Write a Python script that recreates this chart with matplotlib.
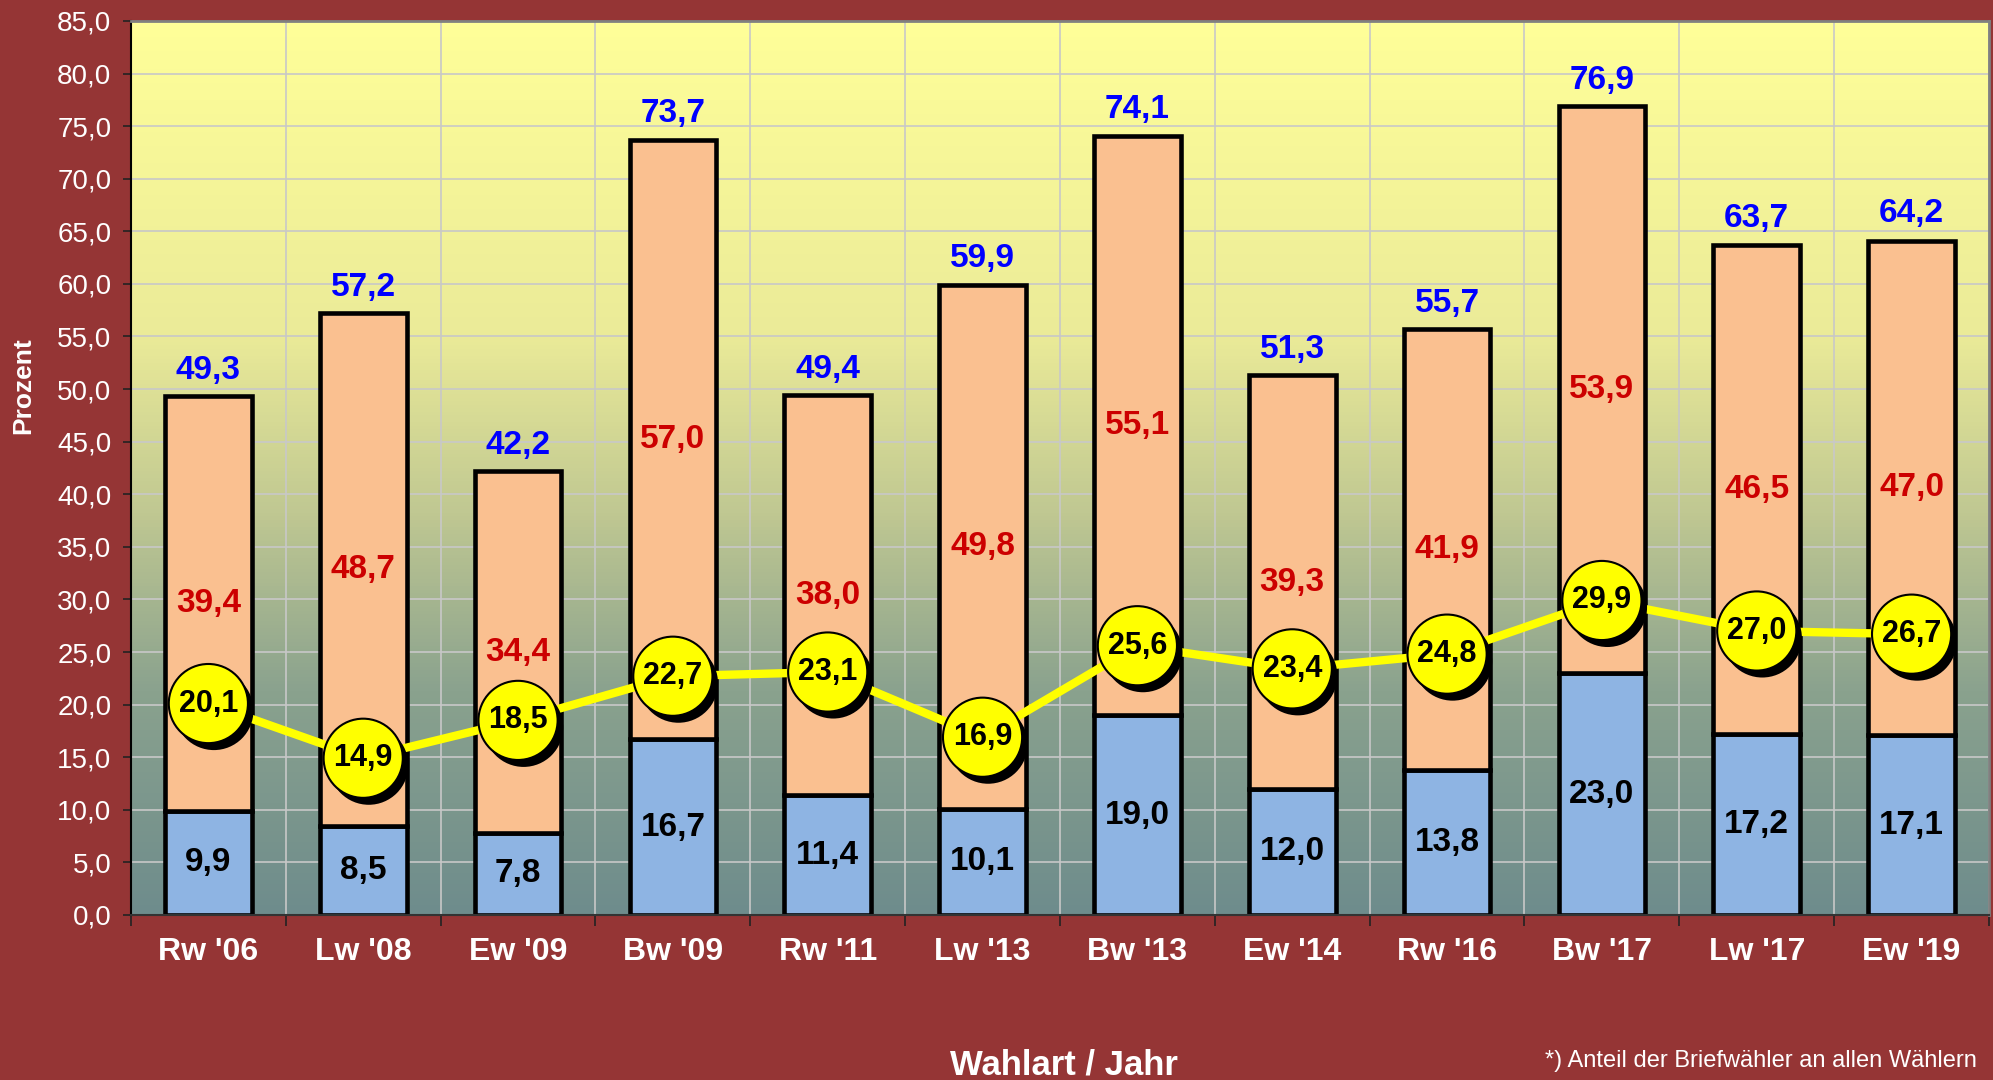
import numpy as np
import matplotlib.pyplot as plt
import matplotlib.patheffects as pe
from matplotlib.colors import LinearSegmentedColormap

plt.rcParams['font.family'] = ['Liberation Sans', 'DejaVu Sans']

# data
wahlen = ["Rw '06", "Lw '08", "Ew '09", "Bw '09", "Rw '11", "Lw '13",
          "Bw '13", "Ew '14", "Rw '16", "Bw '17", "Lw '17", "Ew '19"]
briefwahl = [9.9, 8.5, 7.8, 16.7, 11.4, 10.1, 19.0, 12.0, 13.8, 23.0, 17.2, 17.1]
urnenwahl = [39.4, 48.7, 34.4, 57.0, 38.0, 49.8, 55.1, 39.3, 41.9, 53.9, 46.5, 47.0]
beteiligung = [49.3, 57.2, 42.2, 73.7, 49.4, 59.9, 74.1, 51.3, 55.7, 76.9, 63.7, 64.2]
anteil_brief = [20.1, 14.9, 18.5, 22.7, 23.1, 16.9, 25.6, 23.4, 24.8, 29.9, 27.0, 26.7]


def fmt(v):
    return ('%.1f' % v).replace('.', ',')


def run():
    bg = '#953535'
    fig = plt.figure(figsize=(19.93, 10.8), dpi=100, facecolor=bg)
    ax = fig.add_axes([0.0657, 0.1528, 0.9323, 0.8278])
    x = np.arange(len(wahlen))

    # gradient background of the plot area
    cmap = LinearSegmentedColormap.from_list('bgr', [
        (0.0, '#6e8c8c'), (0.25, '#8aa28e'), (0.45, '#c0c892'),
        (0.65, '#ebeb98'), (1.0, '#ffff99')])
    grad = np.linspace(0, 1, 256).reshape(-1, 1)
    ax.imshow(grad, extent=[-0.5, 11.5, 0, 85], origin='lower', aspect='auto',
              cmap=cmap, zorder=0)

    w = 0.56
    ax.bar(x, briefwahl, w, color='#8eb4e3', edgecolor='black', linewidth=3.3, zorder=2)
    ax.bar(x, urnenwahl, w, bottom=briefwahl, color='#fac090', edgecolor='black',
           linewidth=3.3, zorder=2)

    for i in range(len(wahlen)):
        ax.text(x[i], briefwahl[i] / 2, fmt(briefwahl[i]), ha='center', va='center',
                fontsize=24, fontweight='bold', color='black', zorder=3)
        ax.text(x[i], briefwahl[i] + urnenwahl[i] / 2, fmt(urnenwahl[i]), ha='center',
                va='center', fontsize=24, fontweight='bold', color='#cc0000', zorder=3)
        ax.text(x[i], beteiligung[i] + 1.0, fmt(beteiligung[i]), ha='center',
                va='bottom', fontsize=24, fontweight='bold', color='#0000ff', zorder=3)

    ax.plot(x, anteil_brief, color='#ffff00', linewidth=6, zorder=4)
    ax.plot(x, anteil_brief, linestyle='none', marker='o', markersize=57,
            markerfacecolor='#ffff00', markeredgecolor='black', markeredgewidth=1.5,
            zorder=5,
            path_effects=[pe.SimplePatchShadow(offset=(4, -5), shadow_rgbFace='black',
                                               alpha=1.0), pe.Normal()])
    for i in range(len(wahlen)):
        ax.text(x[i], anteil_brief[i], fmt(anteil_brief[i]), ha='center', va='center',
                fontsize=22, fontweight='bold', color='black', zorder=6)

    ax.set_xlim(-0.5, 11.5)
    ax.set_ylim(0, 85)
    ax.set_yticks(np.arange(0, 86, 5))
    ax.set_yticklabels([fmt(v) for v in np.arange(0, 86, 5)])
    ax.set_xticks(x)
    ax.set_xticklabels(wahlen)
    ax.set_xticks(np.arange(-0.5, 12, 1), minor=True)
    ax.tick_params(axis='y', colors='white', labelsize=20, length=6, width=1.2,
                   pad=8)
    ax.tick_params(axis='y', color='#222222')
    ax.tick_params(axis='x', which='major', length=0, labelsize=23, labelcolor='white',
                   pad=16)
    for lb in ax.get_xticklabels():
        lb.set_fontweight('bold')
    ax.tick_params(axis='x', which='minor', length=8, color='#222222', width=1.2)
    ax.grid(axis='y', which='major', color='#c8c8c8', linewidth=1.2, zorder=1)
    ax.grid(axis='x', which='minor', color='#c8c8c8', linewidth=1.2, zorder=1)
    ax.set_axisbelow(True)

    ax.spines['left'].set_color('black')
    ax.spines['left'].set_linewidth(1.5)
    ax.spines['bottom'].set_color('#333333')
    ax.spines['bottom'].set_linewidth(1.5)
    for s in ['top', 'right']:
        ax.spines[s].set_color('#808080')
        ax.spines[s].set_linewidth(2)

    fig.text(0.0115, 0.643, 'Prozent', rotation=90, ha='center', va='center',
             fontsize=19, fontweight='bold', color='white')
    fig.text(0.534, 0.014, 'Wahlart / Jahr', ha='center', va='center',
             fontsize=25, fontweight='bold', color='white')
    fig.text(0.992, 0.018, '*) Anteil der Briefwähler an allen Wählern', ha='right',
             va='center', fontsize=17, color='white')

    fig.savefig('out.png', dpi=100, facecolor=bg)


if __name__ == "__main__":
    run()
